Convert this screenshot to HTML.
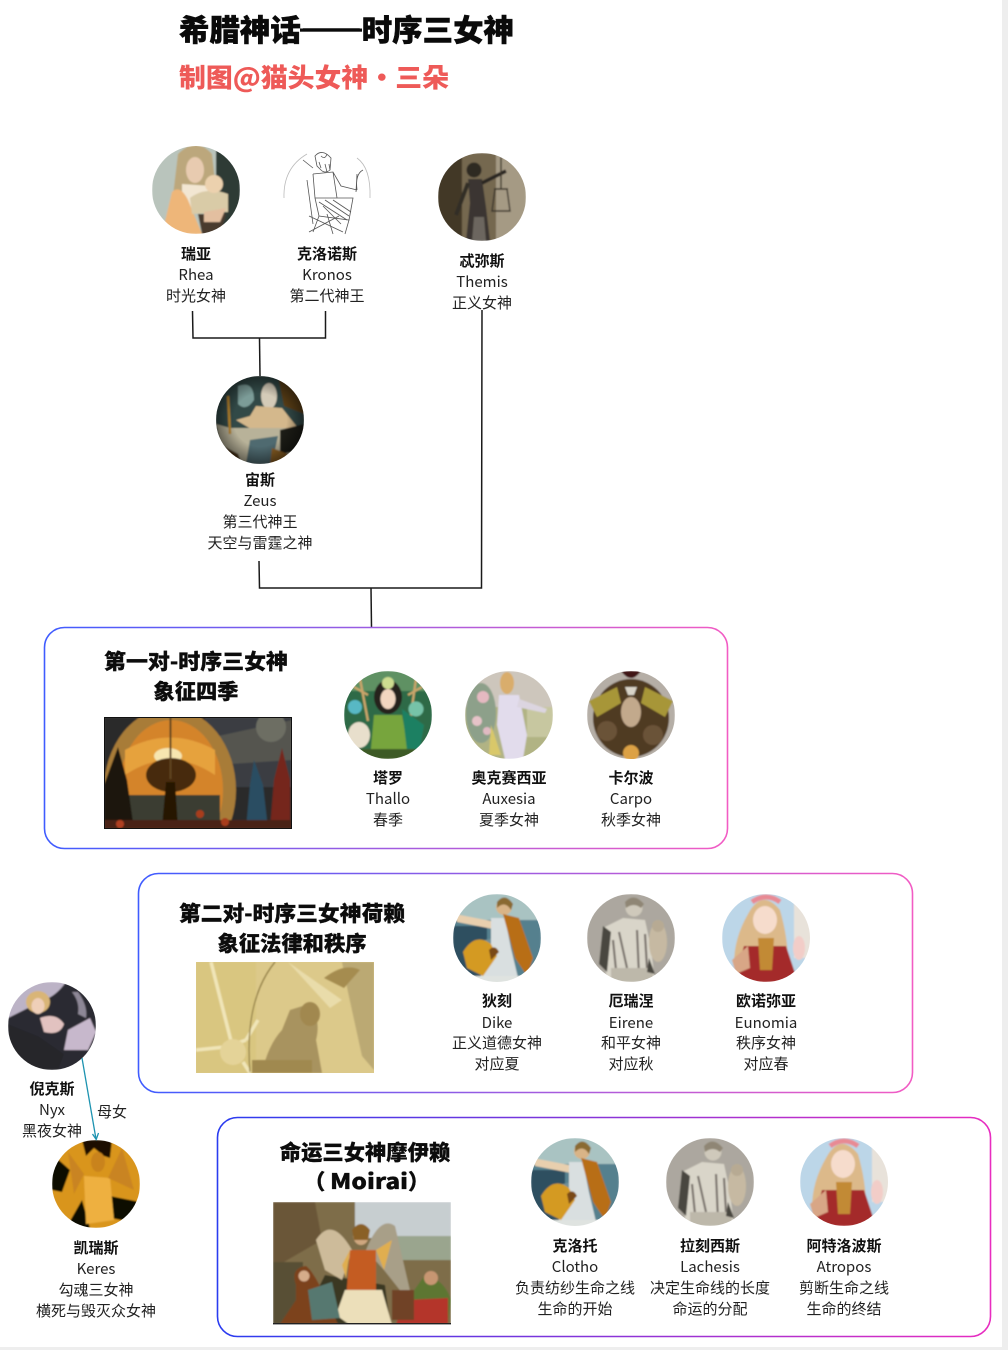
<!DOCTYPE html>
<html lang="zh"><head><meta charset="utf-8"><title>希腊神话——时序三女神</title>
<style>
html,body{margin:0;padding:0;background:#fff;width:1008px;height:1350px;overflow:hidden}
svg{display:block}
text{font-family:"Liberation Sans","Noto Sans CJK SC",sans-serif;fill:#1c1c1c}
.c{font-family:"Noto Sans CJK SC","Liberation Sans",sans-serif;font-size:15px;text-anchor:middle;fill:#222}
.n{font-weight:700;fill:#111}
.h{font-family:"Noto Sans CJK SC",sans-serif;font-size:21.3px;font-weight:900;text-anchor:middle;fill:#0c0c0c;stroke:#0c0c0c;stroke-width:.3px}
</style></head><body>
<svg width="1008" height="1350" viewBox="0 0 1008 1350" xmlns="http://www.w3.org/2000/svg">
<defs>
<linearGradient id="g" x1="0" x2="1" y1="0" y2="0"><stop offset="0" stop-color="#3f5cff"/><stop offset=".5" stop-color="#a05ce0"/><stop offset="1" stop-color="#f25cc4"/></linearGradient>
<linearGradient id="gd" x1="0" x2="1" y1="0" y2="0"><stop offset="0" stop-color="#2a3cf0"/><stop offset="1" stop-color="#e82cc0"/></linearGradient>
<radialGradient id="vig" cx=".5" cy=".5" r=".5"><stop offset=".6" stop-color="#000" stop-opacity="0"/><stop offset="1" stop-color="#000" stop-opacity=".45"/></radialGradient>
<filter id="b1" x="-10%" y="-10%" width="120%" height="120%"><feGaussianBlur stdDeviation=".8"/></filter>
<clipPath id="cc"><circle cx="0" cy="0" r="44"/></clipPath>
<clipPath id="r1"><rect x="104" y="717" width="188" height="112"/></clipPath>
<clipPath id="r2"><rect x="196" y="962" width="178" height="111"/></clipPath>
<clipPath id="r3"><rect x="273" y="1202" width="178" height="122"/></clipPath>

<g id="dike" clip-path="url(#cc)"><g filter="url(#b1)">
<rect x="-44" y="-44" width="88" height="88" fill="#55808e"/>
<rect x="-44" y="-44" width="88" height="26" fill="#a9c3c2"/>
<rect x="-44" y="-12" width="34" height="56" fill="#2f5060"/>
<path d="M-20 4L-4 0V30H-20Z" fill="#6f8f96"/>
<path d="M-42-24 L-6-17 L-4-9 L-40-16Z" fill="#e8cfae"/>
<circle cx="7" cy="-31" r="8" fill="#d9b487"/><path d="M0-36Q8-46 16-34L14-28Q8-38 0-30Z" fill="#8a6a32"/>
<path d="M-6-20 L8-20 L14 10 L22 44 L-18 44 L-6 5Z" fill="#d9dfe0"/>
<path d="M6-24 L22-20 L36 20 L30 38 L18 20Z" fill="#b86e18"/>
<path d="M-34 14 Q-22-6 -6 6 L0 18 L-14 38 L-30 30Z" fill="#d49a22"/>
<path d="M-8 12Q-2 6 2 14L-6 22Z" fill="#7a4a12"/>
<rect x="-44" y="38" width="88" height="8" fill="#dfe3e0"/>
</g></g>
<g id="eirene" clip-path="url(#cc)"><g filter="url(#b1)">
<rect x="-44" y="-44" width="88" height="88" fill="#aca79f"/>
<circle cx="3" cy="-30" r="8.5" fill="#cfc9bb"/><path d="M-6-36Q3-46 13-34L10-30Q3-36-5-30Z" fill="#8f8674"/>
<path d="M-8-20 L14-18 L20 10 L24 44 L-24 44 L-28 12 L-28-10Z" fill="#d9d5c9"/>
<path d="M-28-12L-32 26L-24 34L-20-6Z" fill="#4a473f"/>
<path d="M-12-6 L-4 30 M6-8 L8 38 M-18 2 L-14 42 M14-4L16 30" stroke="#7b756e" stroke-width="2.2" fill="none"/>
<path d="M-20 30H22V44H-20Z" fill="#bdb8aa"/>
<ellipse cx="27" cy="4" rx="9" ry="20" fill="#c6b9a2"/><circle cx="27" cy="-12" r="6" fill="#b7aa93"/>
<path d="M18 20L24 36L16 34Z" fill="#4a473f"/>
</g></g>
<g id="eun" clip-path="url(#cc)"><g filter="url(#b1)">
<rect x="-44" y="-44" width="88" height="88" fill="#bcd6e8"/>
<rect x="28" y="-40" width="18" height="60" fill="#e8e2da"/>
<path d="M-18-24Q-4-50 14-28 Q22 0 22 24 L-32 26 Q-32 0 -18-24Z" fill="#dcb98a"/>
<ellipse cx="-1" cy="-18" rx="12" ry="14" fill="#f6dccc"/>
<path d="M-14-36Q0-46 14-36" stroke="#e88a94" stroke-width="5" fill="none"/>
<path d="M-22 8 L20 8 L32 44 L-32 44Z" fill="#a42a2c"/>
<path d="M-34 22L-18 8L-16 30L-30 36Z" fill="#d8a686"/>
<path d="M-8 0 L8 0 L6 32 L-6 32Z" fill="#c28a36"/>
<ellipse cx="33" cy="10" rx="6" ry="12" fill="#f2cdc8"/>
</g></g>
</defs>

<rect width="1008" height="1350" fill="#fff"/>
<rect x="1002" y="0" width="6" height="1350" fill="#eeeeee"/>
<rect x="0" y="1347" width="1008" height="3" fill="#eeeeee"/>

<text x="179" y="41" style="font-family:'Noto Sans CJK SC',sans-serif;font-size:30px;font-weight:900;fill:#0a0a0a;stroke:#0a0a0a;stroke-width:.5px" textLength="335" lengthAdjust="spacingAndGlyphs">希腊神话——时序三女神</text>
<rect x="300" y="28.5" width="62" height="3.2" fill="#0a0a0a"/>
<text x="179" y="87" style="font-family:'Noto Sans CJK SC',sans-serif;font-size:26px;font-weight:900;fill:#ee5a58" textLength="270" lengthAdjust="spacingAndGlyphs">制图@猫头女神・三朵</text>

<!-- connectors -->
<g fill="none" stroke="#1a1a1a" stroke-width="1.5">
<path d="M192.5 311 L193 338 L325.5 338 L325.5 311"/>
<path d="M259.5 338 L260 376"/>
<path d="M482 310 L481.5 588 L259.5 588 L259 561"/>
<path d="M371 588 L371.5 627"/>
</g>

<!-- group boxes -->
<rect x="44.5" y="627.5" width="683" height="221" rx="20" fill="none" stroke="url(#g)" stroke-width="1.6"/>
<rect x="138.5" y="873.5" width="774" height="219" rx="20" fill="none" stroke="url(#g)" stroke-width="1.6"/>
<rect x="217.5" y="1117.5" width="773" height="219" rx="20" fill="none" stroke="url(#gd)" stroke-width="1.6"/>

<!-- Rhea -->
<g transform="translate(196,190)"><g clip-path="url(#cc)"><g filter="url(#b1)">
<rect x="-44" y="-44" width="88" height="88" fill="#b9c4bc"/>
<rect x="20" y="-44" width="24" height="88" fill="#2e3a36"/>
<path d="M-18-36Q0-54 16-36 L20 0 L-24 14Z" fill="#bca77b"/>
<ellipse cx="-1" cy="-20" rx="9" ry="13" fill="#e8cbb0"/>
<path d="M-14-6 L16-4 L14 20 L-14 20Z" fill="#f2e6d2"/>
<path d="M-34 44 L-24 2 Q-16-6 -8 10 L6 44Z" fill="#eeb679"/>
<path d="M-6 8Q10-4 32 4 L32 22 L-4 24Z" fill="#d9cba7"/>
<circle cx="18" cy="-6" r="9" fill="#ecd1ae"/>
<path d="M2 24 L30 24 L24 44 L6 44Z" fill="#4a3a2e"/>
<path d="M8 22L30 18L24 32L8 32Z" fill="#e3bfa0"/>
</g></g></g>
<!-- Kronos -->
<g transform="translate(327,190)" fill="none" stroke="#555" stroke-width=".8">
<path d="M-43 8Q-44-22-20-36M43 8Q44-22 30-32" stroke="#bbb"/>
<path d="M-12-34Q-5-42 4-32L3-20Q-2-16-6-20L-10-24Z"/>
<path d="M-6-34Q-2-30 0-36M-2-26L0-18M2-26L3-20M-8-28L-6-22"/>
<path d="M-14-22L-24-30M-14-16L6-18L14-4L30 0M-14-16L-12 8L10 8L6-18M-12 8L-8 26L22 30L26 8L10 8"/>
<path d="M-20-10L-14 34M-8 26L-14 42M22 30L18 44M-18 26L16 42M-18 42L12 26"/>
<path d="M30 0Q28-16 36-20M29 2L30-16"/>
<path d="M-8 12L20 30M-2 10L22 26M6 10L24 22M-4 16L14 34M0 24L6 44"/>
</g>
<!-- Themis -->
<g transform="translate(482,197)"><g clip-path="url(#cc)"><g filter="url(#b1)">
<rect x="-44" y="-44" width="88" height="88" fill="#75684f"/>
<rect x="14" y="-44" width="30" height="88" fill="#a59a84"/>
<rect x="-44" y="-44" width="24" height="88" fill="#423826"/>
<circle cx="-8" cy="-27" r="7.5" fill="#2f2a24"/>
<path d="M-14-18 L0-18 L4 10 L8 44 L-16 44 L-12 6Z" fill="#3a3630"/>
<path d="M-14-14L-26 18" stroke="#332e28" stroke-width="4"/>
<path d="M0-14L24-26" stroke="#2a2621" stroke-width="3.5"/>
<path d="M19-40V-8M12-8L26-8M13-8L10 14L28 14L25-8" stroke="#3b352a" stroke-width="1.4" fill="none"/>
<path d="M-8 20L2 20L4 44L-10 44Z" fill="#6c665e"/>
</g></g></g>
<!-- Zeus -->
<g transform="translate(260,420)"><g clip-path="url(#cc)"><g filter="url(#b1)">
<rect x="-44" y="-44" width="88" height="88" fill="#314846"/>
<path d="M-22-34Q-6-40-6-20Q-14-8-22-16Z" fill="#7c9c98"/>
<path d="M18-44H44V-6L24-14Z" fill="#5c4118"/>
<ellipse cx="9" cy="-24" rx="8" ry="13" fill="#d4cbb8"/>
<path d="M-24 0 L-10-4 L-4-14 L22-12 L38 8 L-4 12Z" fill="#d4b88c"/>
<path d="M-44 4 L-30 8 L10 8 L38 8 L28 44 L-34 44Z" fill="#b8b299"/>
<path d="M-44 22L-22 34L-18 44L-44 44Z" fill="#4e3418"/>
<path d="M20 10L44 4L44 30L20 34Z" fill="#1f1a14"/>
<path d="M-32-24L-30 14" stroke="#b9872c" stroke-width="2.5"/>
<path d="M-10 20 L18 16 L12 44 L-14 44Z" fill="#4f6a70"/>
<path d="M12 28L28 34L20 44H10Z" fill="#8a5e20"/>
</g><rect x="-44" y="-44" width="88" height="88" fill="url(#vig)"/></g></g>
<!-- Thallo -->
<g transform="translate(388,715)"><g clip-path="url(#cc)"><g filter="url(#b1)">
<rect x="-44" y="-44" width="88" height="88" fill="#2f6b46"/>
<rect x="-44" y="-44" width="88" height="20" fill="#5f9163"/>
<path d="M-28-36L-20 6M-20-20L-34-28M28-36L22 6M20-20L34-28" stroke="#c9a56b" stroke-width="2.4" fill="none"/>
<ellipse cx="0" cy="-18" rx="14" ry="17" fill="#26241e"/>
<ellipse cx="0" cy="-16" rx="7.5" ry="10" fill="#f2d6c0"/>
<circle cx="0" cy="-32" r="6" fill="#cddc90"/>
<path d="M-14 0 L14 0 L22 44 L-18 44Z" fill="#77a53e"/>
<path d="M14-6L36 10L30 44L20 44Z" fill="#1c8062"/>
<circle cx="-33" cy="-8" r="7" fill="#58b8c4"/><circle cx="28" cy="-6" r="7.5" fill="#76c3a8"/>
<ellipse cx="-29" cy="20" rx="11" ry="13" fill="#e8dfcc"/>
<rect x="-44" y="34" width="88" height="10" fill="#3c5a28"/>
</g></g></g>
<!-- Auxesia -->
<g transform="translate(509,715)"><g clip-path="url(#cc)"><g filter="url(#b1)">
<rect x="-44" y="-44" width="88" height="88" fill="#cdc6bc"/>
<rect x="-44" y="-8" width="88" height="52" fill="#b1b384"/>
<rect x="18" y="-8" width="26" height="30" fill="#c7c7a0"/>
<ellipse cx="-28" cy="-2" rx="15" ry="30" fill="#8da08a"/>
<circle cx="-26" cy="-18" r="6" fill="#e5b9c1"/><circle cx="-32" cy="6" r="5" fill="#e6c3c8"/><circle cx="-22" cy="16" r="4" fill="#e0bac2"/>
<ellipse cx="-2" cy="-32" rx="7" ry="11" fill="#d9ad6c"/>
<path d="M-10-20 L10-20 L18 20 L14 44 L-4 44 L-12 10Z" fill="#e2dcec"/>
<path d="M10-16L38-6L36-2L8-8Z" fill="#dcd5e0"/>
<path d="M-18 10L-8 40L-20 40Z" fill="#d9c86a"/>
</g></g></g>
<!-- Carpo -->
<g transform="translate(631,715)"><g clip-path="url(#cc)"><g filter="url(#b1)">
<rect x="-44" y="-44" width="88" height="88" fill="#b5aea6"/>
<path d="M-10-44Q0-30 10-44Z" fill="#401418"/>
<ellipse cx="0" cy="3" rx="38" ry="39" fill="#4f3a24"/>
<circle cx="-24" cy="16" r="10" fill="#6b5238"/><circle cx="22" cy="20" r="10" fill="#6b5238"/>
<path d="M-42-14L-14-28L-10-12L-34 2ZM42-14L14-28L10-12L34 2Z" fill="#a79638"/>
<ellipse cx="0" cy="-3" rx="10" ry="15" fill="#c2a98c"/>
<path d="M-6-28L6-28L3-20L-3-20Z" fill="#d9d4c8"/>
<circle cx="0" cy="38" r="8" fill="#dca144"/>
</g></g></g>

<use href="#dike" x="497" y="938"/>
<use href="#eirene" x="631" y="938"/>
<use href="#eun" x="766" y="938"/>
<use href="#dike" x="575" y="1182"/>
<use href="#eirene" x="710" y="1182"/>
<use href="#eun" x="844" y="1182"/>

<!-- Nyx -->
<g transform="translate(52,1026)"><g clip-path="url(#cc)"><g filter="url(#b1)">
<rect x="-44" y="-44" width="88" height="88" fill="#2c2c32"/>
<path d="M-44-44H14Q4-30 -8-26L-44-8Z" fill="#bcb3c6"/>
<path d="M16 4L38-8L44 6L36 24L12 24Z" fill="#c7b8cc"/>
<path d="M26-34Q36-20 34-8L26-12Q28-24 20-34Z" fill="#8d8796"/>
<ellipse cx="-14" cy="-24" rx="12" ry="11" fill="#d9b577"/>
<ellipse cx="-14" cy="-20" rx="6.5" ry="8" fill="#efcfb8"/>
<path d="M-12-8 Q4-14 12-2 Q8 10 -8 6Z" fill="#e2c2c0"/>
<path d="M-44-2 L-14 10 L12 28 L6 44 L-44 44Z" fill="#25262a"/>
</g></g></g>
<!-- Keres -->
<g transform="translate(96,1184)"><g clip-path="url(#cc)"><g filter="url(#b1)">
<rect x="-44" y="-44" width="88" height="88" fill="#d9951f"/>
<path d="M-44-30L-26-14L-34 8L-44 6ZM44 18L14 12L6 32L44 40ZM-30 44L-14 16L-6 44Z" fill="#0b0703"/>
<path d="M-14-44H16L14-26L8-28L-2-36L-10-28Z" fill="#1a0e04"/>
<ellipse cx="2" cy="-22" rx="7" ry="10" fill="#c9831c"/>
<path d="M-12-8 L14-6 L18 36 L-10 40Z" fill="#eeb040"/>
<path d="M-28-32L-12-10L-22 10ZM26-36L38 6L12-6Z" fill="#c98420"/>
</g></g></g>

<!-- Nyx arrow -->
<g fill="none" stroke="#1d93b0" stroke-width="1.3">
<path d="M82 1058 L96 1139"/>
<path d="M92.5 1134 L96.2 1139.5 L98.5 1133"/>
</g>
<text class="c" x="112" y="1117">母女</text>

<!-- picture 1 -->
<g clip-path="url(#r1)"><g filter="url(#b1)">
<rect x="104" y="717" width="188" height="112" fill="#2a2b2c"/>
<rect x="205" y="717" width="87" height="70" fill="#3a3e42"/>
<path d="M200 740L292 720V760L215 765Z" fill="#55554f"/>
<ellipse cx="170" cy="790" rx="66" ry="82" fill="#a87c38"/>
<ellipse cx="171" cy="790" rx="52" ry="70" fill="#d4842a"/>
<path d="M125 750Q170 725 215 750L215 775Q170 745 125 775Z" fill="#e6a23e"/>
<ellipse cx="168" cy="756" rx="14" ry="8" fill="#f7e6b0"/>
<rect x="120" y="795" width="100" height="34" fill="#3a3d32"/>
<ellipse cx="171" cy="775" rx="25" ry="17" fill="#46290e"/>
<path d="M166 782H175L178 826H162Z" fill="#261606"/>
<path d="M169.5 717h2v62h-2z" fill="#5e4420"/>
<path d="M104 829V785L118 747L127 780L134 829Z" fill="#1a130d"/>
<path d="M246 829L250 785L254 760L263 785L268 829Z" fill="#2b4d62"/>
<path d="M270 829L274 780L282 748L290 780V829Z" fill="#74281a"/>
<circle cx="271" cy="727" r="15" fill="#6d6e64"/>
<rect x="104" y="820" width="188" height="9" fill="#4a2412"/>
<circle cx="120" cy="824" r="4" fill="#b04020"/><circle cx="200" cy="814" r="4" fill="#a83c1e"/><circle cx="225" cy="822" r="4" fill="#a83c1e"/>
</g></g>
<rect x="104.5" y="717.5" width="187" height="111" fill="none" stroke="#111"/>

<!-- picture 2 -->
<g clip-path="url(#r2)">
<rect x="196" y="962" width="178" height="111" fill="#dcc98a"/>
<g filter="url(#b1)">
<rect x="196" y="962" width="60" height="111" fill="#d9c680"/>
<path d="M211 962L232 1045M196 1050L225 1047M246 1040L258 1020M243 1062L250 1073M227 1047L246 1040" stroke="#f0e5b8" stroke-width="3.5" fill="none"/>
<circle cx="233" cy="1052" r="13" fill="#e4d398"/>
<path d="M275 962Q244 1000 250 1072" stroke="#8d7a42" stroke-width="1.2" fill="none"/>
<path d="M306 1005Q322 1016 316 1040L322 1073H262Q268 1045 282 1030L290 1010Z" fill="#a8935e"/>
<path d="M342 962H374V1070L362 1056L348 992Z" fill="#bba973"/>
<path d="M288 962L342 1000L330 1008Z" fill="#e9dcaa"/>
<path d="M324 978Q345 962 360 970L344 988Z" fill="#a58c50"/>
<ellipse cx="310" cy="1014" rx="10" ry="12" fill="#a18850"/>
<rect x="252" y="1060" width="60" height="13" fill="#a0894f"/>
</g></g>

<!-- picture 3 -->
<g clip-path="url(#r3)"><g filter="url(#b1)">
<rect x="273" y="1202" width="178" height="122" fill="#7e6d4a"/>
<rect x="355" y="1202" width="96" height="36" fill="#c7ced0"/>
<rect x="385" y="1236" width="66" height="24" fill="#9aa58e"/>
<path d="M273 1202H315L322 1240L284 1262H273Z" fill="#6b5638"/>
<rect x="273" y="1262" width="30" height="62" fill="#585034"/>
<path d="M325 1275L385 1285L390 1324H300Z" fill="#3b3824"/>
<path d="M316 1240Q332 1215 352 1250L342 1280L325 1270Z" fill="#cdbb9a"/>
<path d="M366 1250Q380 1215 395 1226L414 1308L384 1270Z" fill="#a89f88"/>
<ellipse cx="361" cy="1235" rx="8" ry="10" fill="#cfa77f"/>
<path d="M352 1230Q361 1218 370 1230L368 1240H354Z" fill="#8a6028"/>
<path d="M350 1250H376L376 1298H346Z" fill="#c45c24"/>
<path d="M342 1265L350 1250L346 1278ZM376 1250L392 1240L384 1270Z" fill="#e0ae50"/>
<path d="M345 1290L382 1290L392 1325L350 1325L336 1315Z" fill="#ecdfba"/>
<path d="M296 1285Q290 1268 306 1266Q312 1270 322 1290L338 1324H280L296 1300Z" fill="#7c431a"/>
<circle cx="304" cy="1276" r="5.5" fill="#d5ac8a"/>
<path d="M308 1290L332 1282L340 1318L312 1320Z" fill="#577870"/>
<path d="M425 1275Q445 1280 451 1300L448 1324H400L410 1296Z" fill="#5d7633"/>
<circle cx="431" cy="1278" r="7" fill="#c79672"/>
<path d="M405 1300L448 1298L448 1324H396Z" fill="#b4352a"/>
<rect x="392" y="1290" width="22" height="30" fill="#6f4326"/>
</g></g>
<rect x="273" y="1323" width="178" height="1.4" fill="#222"/>

<!-- top-level labels -->
<g>
<text class="c n" x="196" y="259">瑞亚</text><text class="c" x="196" y="280">Rhea</text><text class="c" x="196" y="301">时光女神</text>
<text class="c n" x="327" y="259">克洛诺斯</text><text class="c" x="327" y="280">Kronos</text><text class="c" x="327" y="301">第二代神王</text>
<text class="c n" x="482" y="266">忒弥斯</text><text class="c" x="482" y="287">Themis</text><text class="c" x="482" y="308">正义女神</text>
<text class="c n" x="260" y="485">宙斯</text><text class="c" x="260" y="506">Zeus</text><text class="c" x="260" y="527">第三代神王</text><text class="c" x="260" y="548">天空与雷霆之神</text>

<text class="h" x="196" y="669" textLength="184" lengthAdjust="spacingAndGlyphs">第一对-时序三女神</text><text class="h" x="196" y="699">象征四季</text>
<text class="c n" x="388" y="783">塔罗</text><text class="c" x="388" y="804">Thallo</text><text class="c" x="388" y="825">春季</text>
<text class="c n" x="509" y="783">奥克赛西亚</text><text class="c" x="509" y="804">Auxesia</text><text class="c" x="509" y="825">夏季女神</text>
<text class="c n" x="631" y="783">卡尔波</text><text class="c" x="631" y="804">Carpo</text><text class="c" x="631" y="825">秋季女神</text>

<text class="h" x="292" y="921" textLength="226" lengthAdjust="spacingAndGlyphs">第二对-时序三女神荷赖</text><text class="h" x="292" y="951">象征法律和秩序</text>
<text class="c n" x="497" y="1006">狄刻</text><text class="c" x="497" y="1028">Dike</text><text class="c" x="497" y="1048">正义道德女神</text><text class="c" x="497" y="1069">对应夏</text>
<text class="c n" x="631" y="1006">厄瑞涅</text><text class="c" x="631" y="1028">Eirene</text><text class="c" x="631" y="1048">和平女神</text><text class="c" x="631" y="1069">对应秋</text>
<text class="c n" x="766" y="1006">欧诺弥亚</text><text class="c" x="766" y="1028">Eunomia</text><text class="c" x="766" y="1048">秩序女神</text><text class="c" x="766" y="1069">对应春</text>

<text class="c n" x="52" y="1094">倪克斯</text><text class="c" x="52" y="1115">Nyx</text><text class="c" x="52" y="1136">黑夜女神</text>
<text class="c n" x="96" y="1253">凯瑞斯</text><text class="c" x="96" y="1274">Keres</text><text class="c" x="96" y="1295">勾魂三女神</text><text class="c" x="96" y="1316">横死与毁灭众女神</text>

<text class="h" x="365" y="1160">命运三女神摩伊赖</text>
<text class="h" x="304" y="1189" style="text-anchor:start">（</text><text class="h" x="330" y="1189" style="text-anchor:start" textLength="78" lengthAdjust="spacingAndGlyphs">Moirai</text><text class="h" x="408" y="1189" style="text-anchor:start">）</text>
<text class="c n" x="575" y="1251">克洛托</text><text class="c" x="575" y="1272">Clotho</text><text class="c" x="575" y="1293">负责纺纱生命之线</text><text class="c" x="575" y="1314">生命的开始</text>
<text class="c n" x="710" y="1251">拉刻西斯</text><text class="c" x="710" y="1272">Lachesis</text><text class="c" x="710" y="1293">决定生命线的长度</text><text class="c" x="710" y="1314">命运的分配</text>
<text class="c n" x="844" y="1251">阿特洛波斯</text><text class="c" x="844" y="1272">Atropos</text><text class="c" x="844" y="1293">剪断生命之线</text><text class="c" x="844" y="1314">生命的终结</text>
</g>
</svg>
</body></html>
